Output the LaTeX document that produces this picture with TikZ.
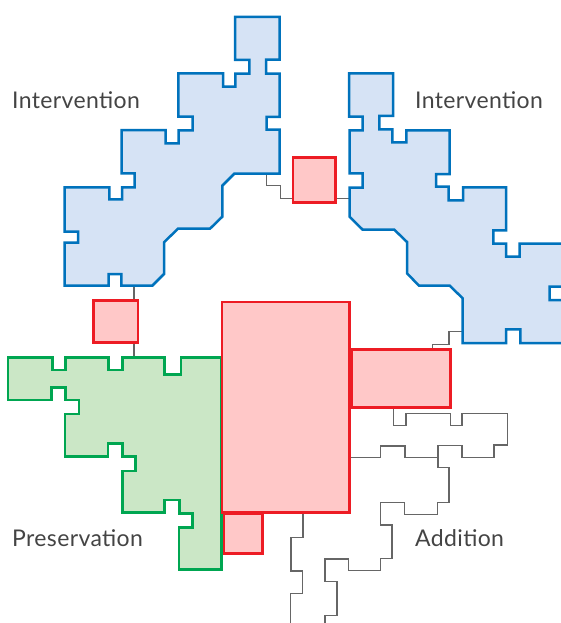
\documentclass[tikz,border=0pt]{standalone}
\usepackage{fontspec}
\setmainfont[LetterSpace=1.6]{Lato}
\definecolor{bluel}{HTML}{0072BC}
\definecolor{bluef}{HTML}{D6E3F5}
\definecolor{greenl}{HTML}{00A651}
\definecolor{greenf}{HTML}{CBE7C6}
\definecolor{redl}{HTML}{ED1C24}
\definecolor{redf}{HTML}{FFC8C8}
\definecolor{greyl}{HTML}{666666}
\definecolor{textc}{HTML}{444444}
\tikzset{
  bluezone/.style={draw=bluel,fill=bluef,line width=2.5pt,miter limit=4},
  greenzone/.style={draw=greenl,fill=greenf,line width=2.5pt},
  redbox/.style={draw=redl,fill=redf,line width=2.5pt,inner sep=0pt,outer sep=0pt,anchor=north west},
  outline/.style={draw=greyl,line width=1.3pt},
  lab/.style={font=\fontsize{23}{26}\selectfont,text=textc,inner sep=0pt,anchor=base west},
}
\begin{document}
\begin{tikzpicture}[x=1pt,y=-1pt]
\useasboundingbox (0,0) rectangle (561,623);
% free ends of connectors
\coordinate (lb) at (266.7,173.7);
\coordinate (rb) at (349,198.3);
\coordinate (lbb) at (134,286);
\coordinate (gt) at (134,357.3);
\coordinate (rbb) at (462.7,331.7);
\coordinate (end1) at (325,625);
\coordinate (end2) at (290.3,625);
\coordinate (join) at (438,457.7);
% grey outlines and connectors
\draw[outline] (lb) -- (266.7,185.7) -- (280.7,185.7) -- (280.7,198.3) -- (293,198.3) coordinate (tl);
\draw[outline] (335.3,198.3) -- (rb);
\draw[outline] (lbb) -- (134,300.3);
\draw[outline] (134,342.7) -- (gt);
\draw[outline] (rbb) -- (449,331.7) -- (449,344.3) -- (432.3,344.3) -- (432.3,349.3);
\draw[outline] (393.7,407.3) -- (393.7,425.7) -- (406,425.7) -- (406,413.3) -- (450.7,413.3) -- (450.7,425.7) -- (462,425.7) -- (462,413.3) -- (507.3,413.3) -- (507.3,445) -- (494,445) -- (494,457.7) -- (462,457.7) -- (462,445.7) -- (438,445.7) -- (join) -- (438,467.7) -- (449,467.7) -- (449,502.7) -- (437.3,502.7) -- (437.3,514.7) -- (404.3,514.7) -- (404.3,502.3) -- (380.3,502.3) -- (380.3,525) -- (392,525) -- (392,558.7) -- (380.3,558.7) -- (380.3,570.3) -- (348.3,570.3) -- (348.3,559) -- (325,559) -- (325,581.7) -- (337,581.7) -- (337,615.7) -- (325,615.7) -- (end1);
\draw[outline] (350,457.7) -- (380.3,457.7) -- (380.3,446) -- (405,446) -- (405,457.7) -- (join);
\draw[outline] (303,513) -- (303,537.3) -- (291,537.3) -- (291,571) -- (302.7,571) -- (302.7,593.7) -- (290.3,593.7) -- (end2);
% intervention, left
\draw[bluezone] (235,17) -- (279.7,17) -- (279.7,59.7) -- (266,59.7) -- (266,73.7) -- (279.7,73.7) -- (279.7,117) -- (266.7,117) -- (266.7,129.7) -- (279.7,129.7) -- (279.7,173.7) -- (234.3,173.7) -- (222.3,185.7) -- (222.3,216.7) -- (210,228.7) -- (178,228.7) -- (164,242.3) -- (164,274) -- (152.3,285.7) -- (121.3,285.7) -- (121.3,274) -- (108.7,274) -- (108.7,285.7) -- (64.7,285.7) -- (64.7,242.7) -- (78,242.7) -- (78,231.7) -- (64.7,231.7) -- (64.7,187.3) -- (109.3,187.3) -- (109.3,199.3) -- (122,199.3) -- (122,187.3) -- (134.7,187.3) -- (134.7,173.3) -- (121.7,173.3) -- (121.7,130) -- (165.7,130) -- (165.7,143.3) -- (178.7,143.3) -- (178.7,130.3) -- (192.7,130.3) -- (192.7,116.7) -- (178.3,116.7) -- (178.3,73.5) -- (223,73.5) -- (223,86.7) -- (235.3,86.7) -- (235.3,73.7) -- (249.3,73.7) -- (249.3,60) -- (235,60) -- cycle;
% intervention, right
\draw[bluezone] (349,73.3) -- (393,73.3) -- (393,116) -- (379.3,116) -- (379.3,129.3) -- (392.3,129.3) -- (392.3,142.3) -- (406.3,142.3) -- (406.3,130.3) -- (449.7,130.3) -- (449.7,174) -- (436,174) -- (436,186.7) -- (448.7,186.7) -- (448.7,200.3) -- (463,200.3) -- (463,187.3) -- (506,187.3) -- (506,230.3) -- (493.3,230.3) -- (493.3,243.7) -- (506,243.7) -- (506,256.7) -- (519.7,256.7) -- (519.7,243.7) -- (566,243.7) -- (566,286.7) -- (549.7,286.7) -- (549.7,300) -- (566,300) -- (566,343) -- (520.3,343) -- (520.3,329.3) -- (506,329.3) -- (506,343) -- (462.7,343) -- (462.7,298.3) -- (449.7,285.7) -- (419,285.7) -- (407,273.3) -- (407,242) -- (394.3,229.7) -- (362.7,229.7) -- (349.5,216.7) -- (349.5,187.7) -- (362.7,187.7) -- (362.7,173.3) -- (349.5,173.3) -- (349.5,130.3) -- (362.7,130.3) -- (362.7,116.7) -- (349,116.7) -- cycle;
% preservation
\draw[greenzone] (8,357.3) -- (52.3,357.3) -- (52.3,370) -- (65.7,370) -- (65.7,357.3) -- (108.7,357.3) -- (108.7,370) -- (122.3,370) -- (122.3,357.3) -- (164.3,357.3) -- (164.3,374.7) -- (181,374.7) -- (181,357.3) -- (221.7,357.3) -- (221.7,569.3) -- (179,569.3) -- (179,527.7) -- (192.7,527.7) -- (192.7,513.7) -- (179.3,513.7) -- (179.3,500) -- (164.7,500) -- (164.7,512.7) -- (122.3,512.7) -- (122.3,471) -- (135.3,471) -- (135.3,456.3) -- (122.3,456.3) -- (122.3,443.7) -- (108,443.7) -- (108,456.3) -- (65,456.3) -- (65,414) -- (79,414) -- (79,400) -- (65.7,400) -- (65.7,387.3) -- (51.3,387.3) -- (51.3,400) -- (8,400) -- cycle;
% red volumes
\node[redbox,minimum width=44.7pt,minimum height=42.4pt] (rleft) at (93.3,300.3) {};
\node[redbox,minimum width=42.3pt,minimum height=44.6pt] (rtop) at (293,157.7) {};
\node[redbox,minimum width=38.3pt,minimum height=39.3pt] (rsmall) at (224,514) {};
\node[redbox,minimum width=127.5pt,minimum height=210.2pt] (rmain) at (221.8,302.2) {};
\node[redbox,minimum width=98.6pt,minimum height=58pt] (rside) at (351.7,349.3) {};
% labels
\node[lab] (t1) at (12,109) {Intervention};
\node[lab] (t2) at (415,109) {Intervention};
\node[lab] (t3) at (12,546.5) {Preservation};
\node[lab] (t4) at (415,546.5) {Addition};
\end{tikzpicture}
\end{document}
